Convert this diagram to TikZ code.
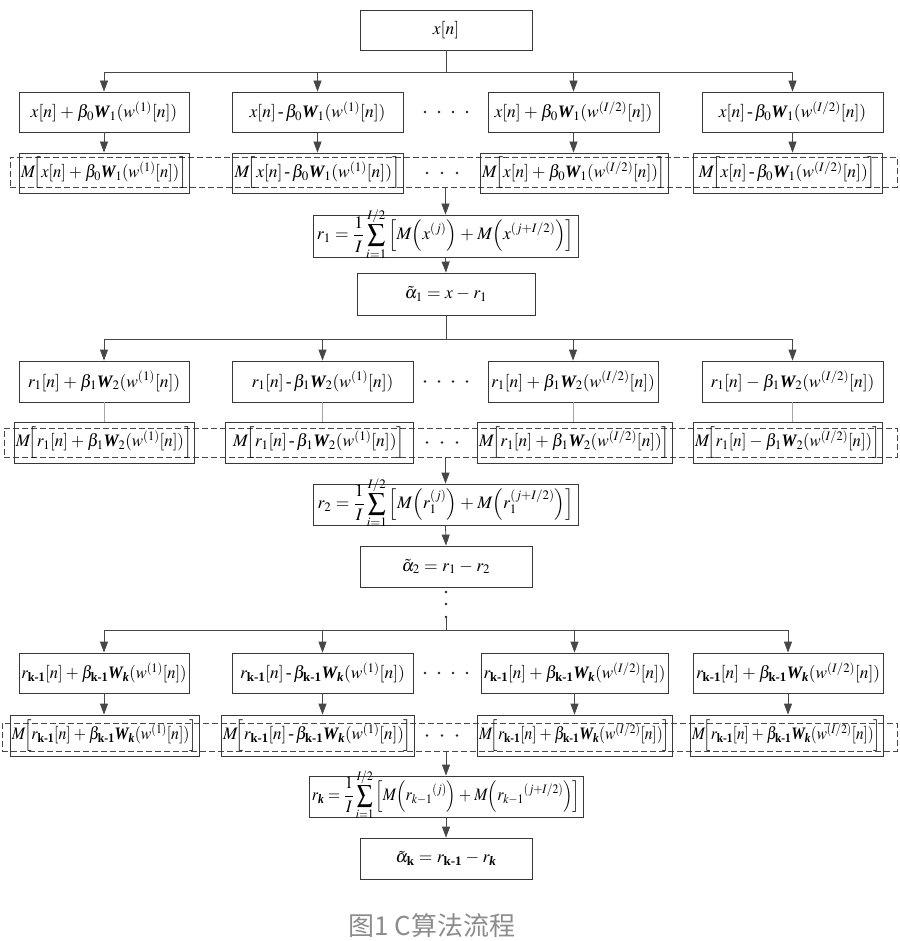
\documentclass[tikz,border=0pt]{standalone}
\usepackage{amsmath}
\usepackage{graphicx}
\usepackage{mathptmx}
\usepackage[no-math]{fontspec}
\setmainfont{Liberation Serif}
\newfontfamily\cjk{Noto Sans CJK SC}
\usetikzlibrary{arrows.meta}
\newcommand{\BW}[1]{\text{\bfseries\itshape #1}}
\newcommand{\km}{\text{\bfseries k-1}}
\newcommand{\hy}{\,\text{-}\,}
\newcommand{\boxfont}{\fontsize{17.5}{20}\selectfont\medmuskip=3.5mu\relax\thickmuskip=4.5mu\relax}
\newsavebox{\fitbox}
\newcommand{\fitw}[2]{\sbox\fitbox{#2}\ifdim\wd\fitbox>#1pt\relax\resizebox{#1pt}{\ht\fitbox}{\usebox\fitbox}\else\usebox\fitbox\fi}
\newcommand{\fml}[2]{\smash{\raisebox{-4pt}{\fitw{#1}{#2}}}}
\begin{document}
\begin{tikzpicture}[x=1pt,y=-1pt,
  box/.style={draw=black!78, line width=0.8pt, inner sep=0pt, font=\boxfont},
  dbox/.style={draw=black!72, line width=0.7pt, dash pattern=on 6pt off 3pt, inner sep=0pt},
  arr/.style={draw=black!72, line width=0.8pt, -{Triangle[length=11pt,width=8pt]}},
  ln/.style={draw=black!72, line width=0.8pt},
  gln/.style={draw=black!35, line width=0.8pt},
  dotf/.style={fill=black!85}]
\useasboundingbox (0,0) rectangle (899,941);
% top
\node[box, minimum width=172, minimum height=40] (x) at (446,30) {$x[n]$};
\coordinate (br1) at (446,72);
% row 1
\node[box, minimum width=170, minimum height=40] (a1) at (104,112) {\fitw{164}{$x[n]+\beta_0\BW{W}_1(w^{(1)}[n])$}};
\node[box, minimum width=171, minimum height=40] (a2) at (317.5,112) {\fitw{165}{$x[n]\hy\beta_0\BW{W}_1(w^{(1)}[n])$}};
\node[box, minimum width=171, minimum height=40] (a3) at (573.5,112) {\fitw{165}{$x[n]+\beta_0\BW{W}_1(w^{(I/2)}[n])$}};
\node[box, minimum width=181, minimum height=40] (a4) at (792.5,112) {\fitw{175}{$x[n]\hy\beta_0\BW{W}_1(w^{(I/2)}[n])$}};
\foreach \xx in {425,439,453,467} \fill[dotf] (\xx,112) circle (1.3);
\node[dbox, minimum width=887, minimum height=30] (d1) at (453.5,172) {};
\node[box, minimum width=170, minimum height=40] (m1) at (104,173) {\fitw{166}{$M\!\Big[x[n]+\beta_0\BW{W}_1(w^{(1)}[n])\Big]$}};
\node[box, minimum width=171, minimum height=40] (m2) at (317.5,173) {\fitw{167}{$M\!\Big[x[n]\hy\beta_0\BW{W}_1(w^{(1)}[n])\Big]$}};
\node[box, minimum width=188, minimum height=40] (m3) at (574,173) {\fitw{184}{$M\!\Big[x[n]+\beta_0\BW{W}_1(w^{(I/2)}[n])\Big]$}};
\node[box, minimum width=189, minimum height=40] (m4) at (787.5,173) {\fitw{185}{$M\!\Big[x[n]\hy\beta_0\BW{W}_1(w^{(I/2)}[n])\Big]$}};
\foreach \xx in {427,442,457} \fill[dotf] (\xx,173) circle (1.3);
\draw[ln] (x.south) -- (br1);
\foreach \n in {a1,a2,a3,a4} \draw[arr] (br1) -| (\n.north);
\foreach \n/\m in {a1/m1,a2/m2,a3/m3,a4/m4} \draw[arr] (\n.south) -- (\n.south |- \m.north);
% r1
\node[box, minimum width=265, minimum height=42] (r1) at (445.5,236) {\fml{258}{$\displaystyle r_1=\frac{1}{I}\sum_{i=1}^{I/2}\Big[M\Big(x^{(j)}\Big)+M\Big(x^{(j+I/2)}\Big)\Big]$}};
\node[box, minimum width=178, minimum height=42] (al1) at (446,294) {$\tilde{\alpha}_1=x-r_1$};
\draw[arr] (d1.south -| r1.north) -- (r1.north);
\draw[arr] (r1.south) -- (al1.north);
\coordinate (br2) at (446,339);
\draw[ln] (al1.south) -- (br2);
% row 2
\node[box, minimum width=170, minimum height=41] (b1) at (104,381.5) {\fitw{164}{$r_1[n]+\beta_1\BW{W}_2(w^{(1)}[n])$}};
\node[box, minimum width=181, minimum height=41] (b2) at (322.5,381.5) {\fitw{175}{$r_1[n]\hy\beta_1\BW{W}_2(w^{(1)}[n])$}};
\node[box, minimum width=170, minimum height=41] (b3) at (573,381.5) {\fitw{164}{$r_1[n]+\beta_1\BW{W}_2(w^{(I/2)}[n])$}};
\node[box, minimum width=181, minimum height=41] (b4) at (792.5,381.5) {\fitw{175}{$r_1[n]-\beta_1\BW{W}_2(w^{(I/2)}[n])$}};
\foreach \xx in {425,439,453,467} \fill[dotf] (\xx,381.5) circle (1.3);
\node[dbox, minimum width=893, minimum height=29] (d2) at (450.5,442.5) {};
\node[box, minimum width=180, minimum height=41] (n1) at (104,442.5) {\fitw{176}{$M\!\Big[r_1[n]+\beta_1\BW{W}_2(w^{(1)}[n])\Big]$}};
\node[box, minimum width=188, minimum height=41] (n2) at (319,442.5) {\fitw{184}{$M\!\Big[r_1[n]\hy\beta_1\BW{W}_2(w^{(1)}[n])\Big]$}};
\node[box, minimum width=195, minimum height=41] (n3) at (574.5,442.5) {\fitw{191}{$M\!\Big[r_1[n]+\beta_1\BW{W}_2(w^{(I/2)}[n])\Big]$}};
\node[box, minimum width=189, minimum height=41] (n4) at (787.5,442.5) {\fitw{185}{$M\!\Big[r_1[n]-\beta_1\BW{W}_2(w^{(I/2)}[n])\Big]$}};
\foreach \xx in {427,442,457} \fill[dotf] (\xx,442.5) circle (1.3);
\foreach \n in {b1,b2,b3,b4} \draw[arr] (br2) -| (\n.north);
\foreach \n/\m in {b1/n1,b2/n2,b3/n3,b4/n4} \draw[gln] (\n.south) -- (\n.south |- \m.north);
% r2
\node[box, minimum width=265, minimum height=41] (r2) at (445.5,504.5) {\fml{258}{$\displaystyle r_2=\frac{1}{I}\sum_{i=1}^{I/2}\Big[M\Big(r_1^{(j)}\Big)+M\Big(r_1^{(j+I/2)}\Big)\Big]$}};
\node[box, minimum width=172, minimum height=41] (al2) at (446,566.5) {$\tilde{\alpha}_2=r_1-r_2$};
\draw[arr] (d2.south -| r2.north) -- (r2.north);
\draw[arr] (r2.south) -- (al2.north);
\foreach \yy in {592,604} \fill[dotf] (446,\yy) circle (1.3);
\coordinate (dt) at (446,617);
\fill[dotf] (dt) circle (1.3);
\coordinate (br3) at (446,630);
\draw[ln] (dt) -- (br3);
% row 3
\node[box, minimum width=170, minimum height=40] (c1) at (104,673) {\fitw{165}{$r_{\km}[n]+\beta_{\km}\BW{W}_{\BW{k}}(w^{(1)}[n])$}};
\node[box, minimum width=181, minimum height=40] (c2) at (322.5,673) {\fitw{175}{$r_{\km}[n]\hy\beta_{\km}\BW{W}_{\BW{k}}(w^{(1)}[n])$}};
\node[box, minimum width=187, minimum height=40] (c3) at (574.5,673) {\fitw{182}{$r_{\km}[n]+\beta_{\km}\BW{W}_{\BW{k}}(w^{(I/2)}[n])$}};
\node[box, minimum width=190, minimum height=40] (c4) at (788,673) {\fitw{184}{$r_{\km}[n]+\beta_{\km}\BW{W}_{\BW{k}}(w^{(I/2)}[n])$}};
\foreach \xx in {425,439,453,467} \fill[dotf] (\xx,673) circle (1.3);
\node[dbox, minimum width=895, minimum height=28] (d3) at (449.5,737) {};
\node[box, minimum width=189, minimum height=41] (p1) at (104.5,735.5) {\fitw{185}{$M\!\Big[r_{\km}[n]+\beta_{\km}\BW{W}_{\BW{k}}(w^{(1)}[n])\Big]$}};
\node[box, minimum width=193, minimum height=41] (p2) at (317.5,735.5) {\fitw{189}{$M\!\Big[r_{\km}[n]\hy\beta_{\km}\BW{W}_{\BW{k}}(w^{(1)}[n])\Big]$}};
\node[box, minimum width=195, minimum height=41] (p3) at (574.5,735.5) {\fitw{191}{$M\!\Big[r_{\km}[n]+\beta_{\km}\BW{W}_{\BW{k}}(w^{(I/2)}[n])\Big]$}};
\node[box, minimum width=193, minimum height=41] (p4) at (786.5,735.5) {\fitw{189}{$M\!\Big[r_{\km}[n]+\beta_{\km}\BW{W}_{\BW{k}}(w^{(I/2)}[n])\Big]$}};
\foreach \xx in {427,442,457} \fill[dotf] (\xx,735.5) circle (1.3);
\foreach \n in {c1,c2,c3,c4} \draw[arr] (br3) -| (\n.north);
\foreach \n/\m in {c1/p1,c2/p2,c3/p3,c4/p4} \draw[arr] (\n.south) -- (\n.south |- \m.north);
% rk
\node[box, minimum width=274, minimum height=41] (rk) at (446,796.5) {\fml{268}{$\displaystyle r_{\BW{k}}=\frac{1}{I}\sum_{i=1}^{I/2}\Big[M\Big(r_{k-1}{}^{(j)}\Big)+M\Big(r_{k-1}{}^{(j+I/2)}\Big)\Big]$}};
\node[box, minimum width=172, minimum height=41] (alk) at (446,858.5) {$\tilde{\alpha}_{\text{\bfseries k}}=r_{\km}-r_{\BW{k}}$};
\draw[arr] (d3.south -| rk.north) -- (rk.north);
\draw[arr] (rk.south) -- (alk.north);
% caption
\node[font=\cjk\fontsize{26}{30}\selectfont, text=black!45, inner sep=0pt] (cap) at (432,926) {图1 C算法流程};
\end{tikzpicture}
\end{document}
